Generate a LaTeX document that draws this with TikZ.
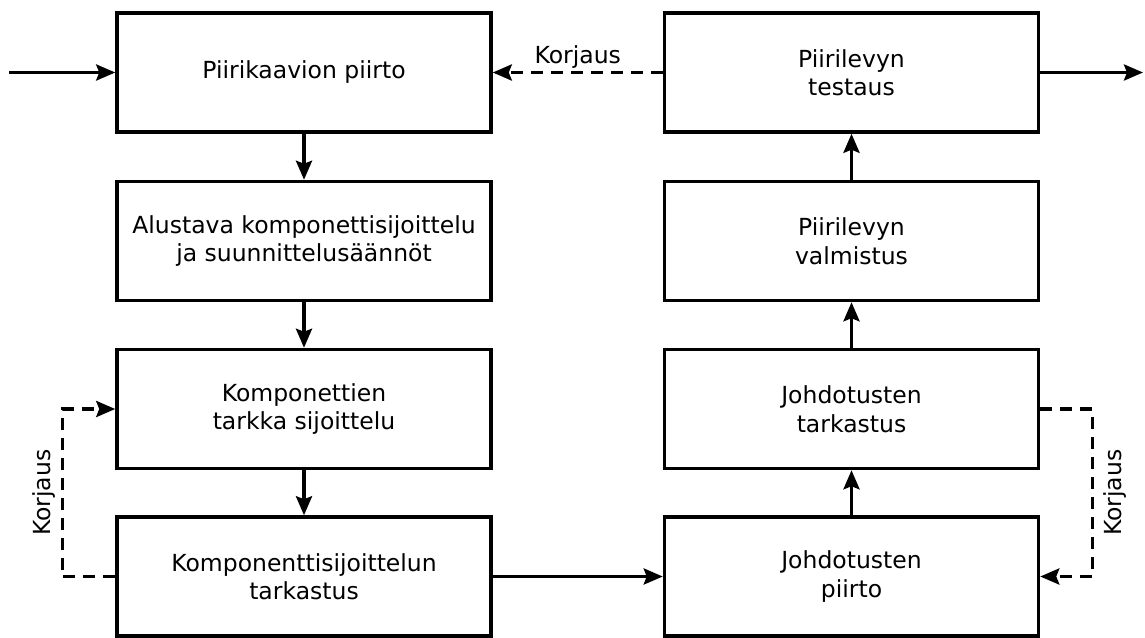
\documentclass[tikz,border=0pt]{standalone}
\usepackage{fontspec}
\setmainfont{DejaVu Sans}
\usetikzlibrary{arrows.meta}

\begin{document}
\begin{tikzpicture}[x=1pt, y=-1pt,
    tip/.tip={Stealth[length=19pt, width=16pt, inset=3pt]},
    blk/.style={draw, line width=3.5pt, minimum width=374pt, minimum height=119pt,
        align=center, font=\fontsize{23.5}{28.5}\selectfont},
    flow/.style={-tip, line width=3.5pt},
    fix/.style={-tip, line width=3.5pt, dash pattern=on 12pt off 8pt},
    lbl/.style={font=\fontsize{23.5}{28.5}\selectfont}]
    \useasboundingbox (0,0) rectangle (1145,637);

    % Left column
    \node[blk] (sch) at (304, 72.5) {Piirikaavion piirto};
    \node[blk] (pre) at (304, 241) {Alustava komponettisijoittelu\\ja suunnittelusäännöt};
    \node[blk] (plc) at (304, 409) {Komponettien\\tarkka sijoittelu};
    \node[blk] (chk) at (304, 576.5) {Komponenttisijoittelun\\tarkastus};

    % Right column
    \node[blk] (tst) at (851.5, 72.5) {Piirilevyn\\testaus};
    \node[blk] (mfg) at (851.5, 241) {Piirilevyn\\valmistus};
    \node[blk] (rck) at (851.5, 409) {Johdotusten\\tarkastus};
    \node[blk] (rte) at (851.5, 576.5) {Johdotusten\\piirto};

    % In and out
    \coordinate (in) at (9, 72.5);
    \coordinate (out) at (1143, 72.5);
    \draw[flow] (in) -- (sch.west);
    \draw[flow] (tst.east) -- (out);

    % Main flow
    \draw[flow] (sch) -- (pre);
    \draw[flow] (pre) -- (plc);
    \draw[flow] (plc) -- (chk);
    \draw[flow] (chk.east) -- (rte.west);
    \draw[flow] (rte) -- (rck);
    \draw[flow] (rck) -- (mfg);
    \draw[flow] (mfg) -- (tst);

    % Corrections
    \draw[fix] (tst.west) -- (sch.east) node[midway, above, lbl, yshift=-1pt] {Korjaus};
    \draw[fix] (chk.west) -- ++(-53,0) |- (plc.west)
        node[pos=0.25, lbl, rotate=90, anchor=south, yshift=2pt] {Korjaus};
    \draw[fix] (rck.east) -- ++(52,0) |- (rte.east)
        node[pos=0.25, lbl, rotate=90, anchor=north, yshift=-6pt] {Korjaus};
\end{tikzpicture}
\end{document}
